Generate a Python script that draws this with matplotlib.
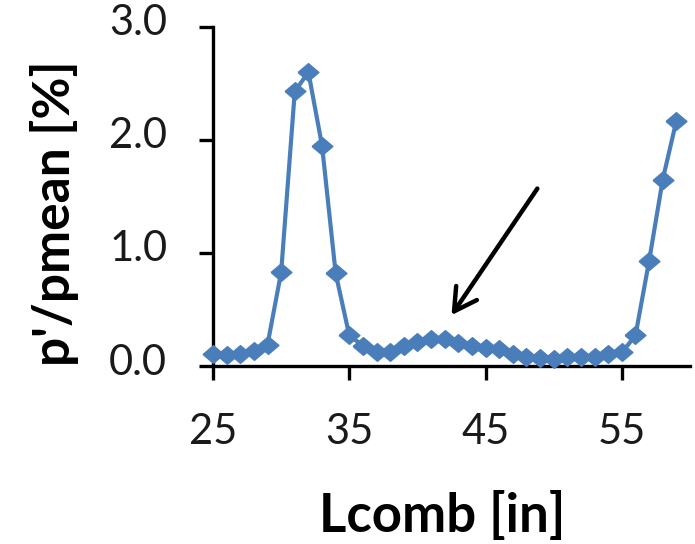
import matplotlib
matplotlib.use("Agg")
import matplotlib.pyplot as plt
import matplotlib.transforms as mtransforms

# Data
l_comb = list(range(25, 60))
p_ratio = [0.11, 0.10, 0.11, 0.13, 0.19, 0.83, 2.43, 2.60, 1.95, 0.82,
           0.27, 0.18, 0.125, 0.125, 0.175, 0.21, 0.24, 0.24, 0.20, 0.175,
           0.16, 0.15, 0.11, 0.08, 0.07, 0.06, 0.08, 0.08, 0.08, 0.11,
           0.12, 0.27, 0.93, 1.65, 2.17]
x_ticks = [25, 35, 45, 55]
y_ticks = [0.0, 1.0, 2.0, 3.0]
arrow_tail = (48.8, 1.57)
arrow_head = (42.5, 0.45)

plt.rcParams['font.family'] = ['Lato', 'DejaVu Sans']

fig = plt.figure(figsize=(6.95, 5.44), dpi=100)
ax = fig.add_axes([0.3065, 0.3272, 0.9928 - 0.3065, 0.9504 - 0.3272])

diamond = [(-1, 0), (0, 0.85), (1, 0), (0, -0.85), (-1, 0)]
ax.plot(l_comb, p_ratio, color='#4a7ebb', lw=3, marker=diamond,
        markersize=15, markerfacecolor='#4a7ebb', markeredgecolor='#4a7ebb',
        markeredgewidth=1, clip_on=False, zorder=3)

ax.annotate('', xy=arrow_head, xytext=arrow_tail,
            arrowprops=dict(arrowstyle='->,head_length=1.6,head_width=0.9',
                            color='black', lw=3.2, shrinkA=0, shrinkB=0))

ax.set_xlim(25, 60)
ax.set_ylim(0, 3.0)
ax.set_xticks(x_ticks)
ax.set_yticks(y_ticks)
ax.set_yticklabels([f"{v:.1f}" for v in y_ticks])

for s in ['top', 'right']:
    ax.spines[s].set_visible(False)
for s in ['left', 'bottom']:
    ax.spines[s].set_linewidth(2.4)
    ax.spines[s].set_color('black')

ax.tick_params(axis='both', direction='out', length=10, width=2.4,
               colors='black', labelsize=30, labelcolor='#1a1a1a')
ax.tick_params(axis='y', pad=23)
ax.tick_params(axis='x', pad=24)

offset = mtransforms.ScaledTranslation(0, 7 / 100, fig.dpi_scale_trans)
for lab in ax.get_yticklabels():
    lab.set_transform(lab.get_transform() + offset)

fig.text(442 / 695, 1 - 532 / 544, 'Lcomb [in]', ha='center', va='baseline',
         fontsize=38, fontweight='bold', color='black')
fig.text(55 / 695, 1 - 213 / 544, "p'/pmean [%]", ha='center', va='center',
         rotation=90, fontsize=37, fontweight='bold', color='black')

fig.savefig('out.png', dpi=100)
